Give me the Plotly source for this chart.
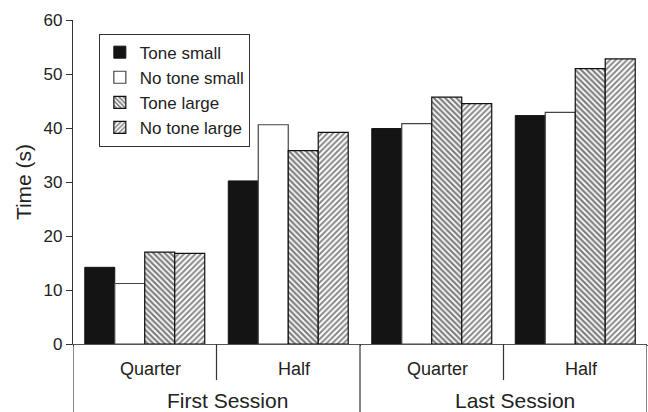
import plotly.graph_objects as go

# Grouping of the x axis: session (outer) and portion (inner)
sessions = ["First Session", "First Session", "Last Session", "Last Session"]
portions = ["Quarter", "Half", "Quarter", "Half"]

# Mean time (s) per condition
tone_small = [14.2, 30.2, 39.9, 42.3]
no_tone_small = [11.2, 40.6, 40.8, 42.9]
tone_large = [17.0, 35.8, 45.7, 51.0]
no_tone_large = [16.8, 39.2, 44.5, 52.8]

y_ticks = [0, 10, 20, 30, 40, 50, 60]

FONT = "Liberation Sans, Arial, Helvetica, sans-serif"
x = [sessions, portions]

fig = go.Figure()
fig.add_trace(go.Bar(
    name="Tone small", x=x, y=tone_small,
    marker=dict(color="#141414", line=dict(color="#141414", width=1)),
))
fig.add_trace(go.Bar(
    name="No tone small", x=x, y=no_tone_small,
    marker=dict(color="white", line=dict(color="#444444", width=1.2)),
))
fig.add_trace(go.Bar(
    name="Tone large", x=x, y=tone_large,
    marker=dict(color="white", line=dict(color="#111111", width=1.2),
                pattern=dict(shape="\\", size=4, solidity=0.55,
                             fgcolor="#000000", bgcolor="white")),
))
fig.add_trace(go.Bar(
    name="No tone large", x=x, y=no_tone_large,
    marker=dict(color="white", line=dict(color="#111111", width=1.2),
                pattern=dict(shape="/", size=4, solidity=0.5,
                             fgcolor="#111111", bgcolor="white")),
))

# Divider lines under the axis: full height between sessions, short between portions
shapes = []
for xv in [-0.5, 1.5, 3.5]:
    shapes.append(dict(type="line", xref="x", yref="paper", x0=xv, x1=xv,
                       y0=0, y1=-0.3, line=dict(color="#333333", width=1.2)))
for xv in [0.5, 2.5]:
    shapes.append(dict(type="line", xref="x", yref="paper", x0=xv, x1=xv,
                       y0=0, y1=-0.111, line=dict(color="#333333", width=1.2)))

annotations = []
for i, p in enumerate(portions):
    annotations.append(dict(text=p, x=i, xref="x", y=-0.077, yref="paper",
                            xanchor="center", yanchor="middle", showarrow=False,
                            xshift=6, font=dict(family=FONT, size=18, color="#222222")))
for xv, s in [(0.5, "First Session"), (2.5, "Last Session")]:
    annotations.append(dict(text=s, x=xv, xref="x", y=-0.173, yref="paper",
                            xanchor="center", yanchor="middle", showarrow=False,
                            xshift=11, font=dict(family=FONT, size=21, color="#222222")))

fig.update_layout(
    width=648, height=412,
    margin=dict(l=73, r=1, t=20, b=68),
    paper_bgcolor="white", plot_bgcolor="white",
    barmode="group", bargap=0.164, bargroupgap=0,
    font=dict(family=FONT, color="#222222"),
    showlegend=True,
    legend=dict(x=0.045, y=0.958, xanchor="left", yanchor="top",
                bordercolor="#333333", borderwidth=1, bgcolor="white",
                font=dict(family=FONT, size=17, color="#222222"),
                tracegroupgap=0),
    shapes=shapes,
    annotations=annotations,
)
fig.update_xaxes(
    type="multicategory", showticklabels=False, showgrid=False,
    showline=True, linecolor="#555555", linewidth=1.2, ticks="",
    range=[-0.5, 3.5],
)
fig.update_yaxes(
    range=[0, 60], tickvals=y_ticks, showgrid=False, zeroline=False,
    showline=True, linecolor="#333333", linewidth=1.2,
    ticks="outside", ticklen=6, tickcolor="#333333", tickwidth=1.2,
    tickfont=dict(family=FONT, size=17, color="#222222"),
    title=dict(text="Time (s)", font=dict(family=FONT, size=21, color="#222222"),
               standoff=6),
)

fig.write_html("out.html")
